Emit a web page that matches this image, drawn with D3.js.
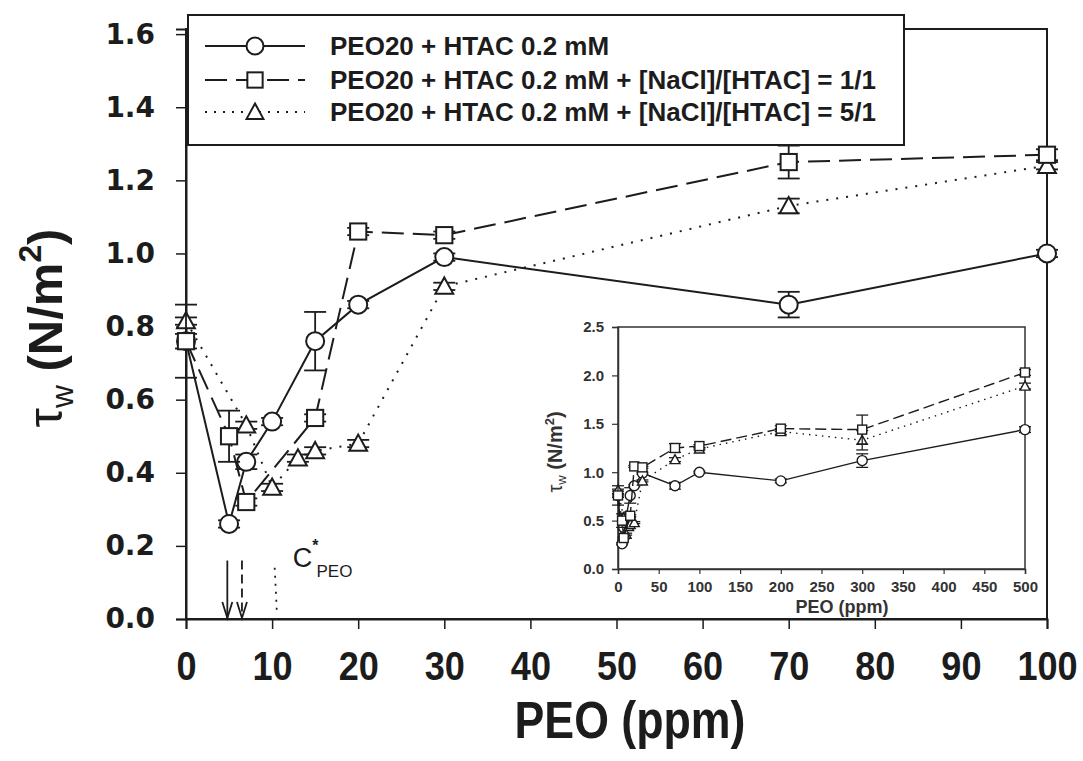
<!DOCTYPE html>
<html>
<head>
<meta charset="utf-8">
<script src="https://cdn.jsdelivr.net/npm/d3@7"></script>
<style>
  body { margin: 0; background: #fff; }
  svg { display: block; }
</style>
</head>
<body>
<svg width="1083" height="761"></svg>
<script>
// data: wall shear stress vs PEO concentration
var xHtac = [0, 5, 7, 10, 15, 20, 30, 70, 100, 200, 300, 500];
var tauHtac = [0.76, 0.26, 0.43, 0.54, 0.76, 0.86, 0.99, 0.86, 1.00, 0.91, 1.12, 1.44];
var errHtac = [0.02, 0.01, 0.02, 0.01, 0.08, 0.01, 0.01, 0.035, 0.01, 0.02, 0.07, 0.03];

var xNacl1 = [0, 5, 7, 15, 20, 30, 70, 100, 200, 300, 500];
var tauNacl1 = [0.76, 0.50, 0.32, 0.55, 1.06, 1.05, 1.25, 1.27, 1.45, 1.44, 2.03];
var errNacl1 = [0.10, 0.07, 0.01, 0.01, 0.01, 0.01, 0.045, 0.015, 0.03, 0.15, 0.03];

var xNacl5 = [0, 7, 10, 13, 15, 20, 30, 70, 100, 200, 300, 500];
var tauNacl5 = [0.815, 0.53, 0.36, 0.44, 0.46, 0.48, 0.91, 1.13, 1.24, 1.42, 1.33, 1.89];
var errNacl5 = [0.01, 0.01, 0.01, 0.01, 0.01, 0.01, 0.01, 0.02, 0.01, 0.03, 0.10, 0.03];

var legendLabels = [
  "PEO20 + HTAC 0.2 mM",
  "PEO20 + HTAC 0.2 mM + [NaCl]/[HTAC] = 1/1",
  "PEO20 + HTAC 0.2 mM + [NaCl]/[HTAC] = 5/1"
];
var xTicks = [0, 10, 20, 30, 40, 50, 60, 70, 80, 90, 100];
var yTicks = [0, 0.2, 0.4, 0.6, 0.8, 1.0, 1.2, 1.4, 1.6];
var insetXTicks = [0, 50, 100, 150, 200, 250, 300, 350, 400, 450, 500];
var insetYTicks = [0, 0.5, 1.0, 1.5, 2.0, 2.5];
// arrows marking the onset concentrations, and the C* overlap concentration
var arrowPeo = [4.8, 6.5];
var cStarPeo = 10.3;

var ink = "#1c1c1c";
var svg = d3.select("svg");

function zip(xs, ys, es) {
  return xs.map(function(x, i) { return { x: x, y: ys[i], e: es[i] }; });
}
var series = [
  { key: "htac", data: zip(xHtac, tauHtac, errHtac), dash: null, shape: "circle" },
  { key: "nacl5", data: zip(xNacl5, tauNacl5, errNacl5), dash: "2,7", shape: "triangle" },
  { key: "nacl1", data: zip(xNacl1, tauNacl1, errNacl1), dash: "22,9", shape: "square" }
];

function marker(sel, shape, s) {
  if (shape === "circle") {
    sel.append("circle").attr("r", s / 2);
  } else if (shape === "square") {
    sel.append("rect").attr("x", -s * 0.45).attr("y", -s * 0.45)
      .attr("width", s * 0.9).attr("height", s * 0.9);
  } else {
    var h = s * 0.9;
    sel.append("path").attr("d", "M0," + (-h * 0.55) + "L" + (h * 0.55) + "," + (h * 0.45) +
      "L" + (-h * 0.55) + "," + (h * 0.45) + "Z");
  }
}

function drawSeries(g, x, y, xmax, opt) {
  series.forEach(function(s) {
    var pts = s.data.filter(function(d) { return d.x <= xmax; });
    g.append("path")
      .datum(pts)
      .attr("fill", "none")
      .attr("stroke", ink)
      .attr("stroke-width", opt.lw)
      .attr("stroke-dasharray", s.dash ? opt.dash[s.key] : null)
      .attr("d", d3.line().x(function(d) { return x(d.x); }).y(function(d) { return y(d.y); }));

    // error bars
    pts.forEach(function(d) {
      var eb = g.append("g").attr("stroke", ink).attr("stroke-width", opt.lw * 0.9);
      var cx = x(d.x), y1 = y(d.y + d.e), y2 = y(d.y - d.e);
      eb.append("line").attr("x1", cx).attr("x2", cx).attr("y1", y1).attr("y2", y2);
      eb.append("line").attr("x1", cx - opt.cap).attr("x2", cx + opt.cap).attr("y1", y1).attr("y2", y1);
      eb.append("line").attr("x1", cx - opt.cap).attr("x2", cx + opt.cap).attr("y1", y2).attr("y2", y2);
    });

    pts.forEach(function(d) {
      var m = g.append("g")
        .attr("transform", "translate(" + x(d.x) + "," + y(d.y) + ")")
        .attr("fill", "#fff").attr("stroke", ink).attr("stroke-width", opt.lw);
      marker(m, s.shape, opt.size);
    });
  });
}

// ---------- main plot ----------
var x = d3.scaleLinear().domain([0, 100]).range([186, 1047]);
var y = d3.scaleLinear().domain([0, 1.614]).range([619, 29]);

svg.append("rect")
  .attr("x", x(0)).attr("y", y(1.614))
  .attr("width", x(100) - x(0)).attr("height", y(0) - y(1.614))
  .attr("fill", "none").attr("stroke", ink).attr("stroke-width", 2);

var xAxis = svg.append("g")
  .attr("transform", "translate(0," + y(0) + ")")
  .call(d3.axisBottom(x).tickValues(xTicks).tickSize(10).tickPadding(22));
xAxis.select(".domain").attr("stroke", ink).attr("stroke-width", 2);
xAxis.selectAll(".tick line").attr("stroke", ink).attr("stroke-width", 1.5);
xAxis.selectAll(".tick text")
  .attr("fill", ink)
  .attr("font-family", "Liberation Sans, Arial, sans-serif")
  .attr("font-weight", "bold")
  .attr("font-size", 41)
  .attr("transform", "scale(0.88,1)");

var yAxis = svg.append("g")
  .attr("transform", "translate(" + x(0) + ",0)")
  .call(d3.axisLeft(y).tickValues(yTicks).tickFormat(d3.format(".1f")).tickSize(10).tickPadding(21));
yAxis.select(".domain").attr("stroke", ink).attr("stroke-width", 2);
yAxis.selectAll(".tick line").attr("stroke", ink).attr("stroke-width", 1.5);
yAxis.selectAll(".tick text")
  .attr("fill", ink)
  .attr("font-family", "DejaVu Sans, sans-serif")
  .attr("font-weight", "bold")
  .attr("font-size", 28);

// axis titles
svg.append("text")
  .attr("x", 630).attr("y", 738)
  .attr("text-anchor", "middle")
  .attr("fill", ink)
  .attr("font-family", "Liberation Sans, Arial, sans-serif")
  .attr("font-weight", "bold")
  .attr("font-size", 52)
  .attr("transform", "translate(630,0) scale(0.86,1) translate(-630,0)")
  .text("PEO (ppm)");

function tauLabel(g, size, bold) {
  var t = g.append("text")
    .attr("text-anchor", "middle")
    .attr("fill", ink)
    .attr("font-family", "Liberation Sans, Arial, sans-serif")
    .attr("font-size", size);
  t.append("tspan").attr("font-weight", "normal").text("\u03c4");
  t.append("tspan").attr("font-weight", "normal").attr("font-size", size * 0.65)
    .attr("dy", size * 0.22).text("w");
  t.append("tspan").attr("font-weight", bold).attr("dy", -size * 0.22).text(" (N/m");
  t.append("tspan").attr("font-weight", bold).attr("font-size", size * 0.65)
    .attr("dy", -size * 0.42).text("2");
  t.append("tspan").attr("font-weight", bold).attr("dy", size * 0.42).text(")");
  return t;
}
tauLabel(svg.append("g").attr("transform", "translate(62,328) rotate(-90)"), 49, "bold");

// lines, error bars and markers
drawSeries(svg.append("g"), x, y, 100, {
  lw: 2, size: 18, cap: 11, dash: { nacl1: "22,9", nacl5: "2,8" }
});

// onset arrows
var arrows = svg.append("g").attr("stroke", ink).attr("stroke-width", 1.8).attr("fill", "none");
arrowPeo.forEach(function(p, i) {
  var ax = x(p);
  arrows.append("line")
    .attr("x1", ax).attr("x2", ax).attr("y1", y(0.16)).attr("y2", y(0.003))
    .attr("stroke-dasharray", i === 1 ? "9,5" : null);
  arrows.append("path")
    .attr("d", "M" + (ax - 5) + "," + (y(0) - 17) + "L" + ax + "," + (y(0) - 1) + "L" + (ax + 5) + "," + (y(0) - 17));
});
arrows.append("line")
  .attr("x1", x(cStarPeo)).attr("x2", x(cStarPeo + 0.25))
  .attr("y1", y(0.14)).attr("y2", y(0.02))
  .attr("stroke-dasharray", "2,6");

var cs = svg.append("text")
  .attr("x", x(12.4)).attr("y", y(0.143))
  .attr("fill", ink)
  .attr("font-family", "Liberation Sans, Arial, sans-serif")
  .attr("font-size", 27);
cs.append("tspan").text("C");
cs.append("tspan").attr("font-size", 16).attr("dy", -16).attr("font-weight", "bold").text("*");
cs.append("tspan").attr("font-size", 17).attr("dy", 26).attr("dx", -2).text("PEO");

// ---------- legend ----------
var leg = svg.append("g");
leg.append("rect")
  .attr("x", 188).attr("y", 15).attr("width", 716).attr("height", 130)
  .attr("fill", "#fff").attr("stroke", ink).attr("stroke-width", 2);
var legRows = [46, 80, 112];
var legSeries = [series[0], series[2], series[1]];
legSeries.forEach(function(s, i) {
  var row = leg.append("g").attr("transform", "translate(0," + legRows[i] + ")");
  row.append("line")
    .attr("x1", 205).attr("x2", 305)
    .attr("stroke", ink).attr("stroke-width", 2)
    .attr("stroke-dasharray", s.dash);
  var m = row.append("g").attr("transform", "translate(255,0)")
    .attr("fill", "#fff").attr("stroke", ink).attr("stroke-width", 2);
  marker(m, s.shape, 17);
  row.append("text")
    .attr("x", 330).attr("dy", "0.36em")
    .attr("fill", ink)
    .attr("font-family", "Liberation Sans, Arial, sans-serif")
    .attr("font-weight", "bold")
    .attr("font-size", 26)
    .text(legendLabels[i]);
});

// ---------- inset ----------
var ix = d3.scaleLinear().domain([0, 500]).range([618, 1025]);
var iy = d3.scaleLinear().domain([0, 2.5]).range([569, 327]);
var inset = svg.append("g");
inset.append("rect")
  .attr("x", ix(0)).attr("y", iy(2.5))
  .attr("width", ix(500) - ix(0)).attr("height", iy(0) - iy(2.5))
  .attr("fill", "#fff").attr("stroke", "#333").attr("stroke-width", 1.5);

var ixAxis = inset.append("g")
  .attr("transform", "translate(0," + iy(0) + ")")
  .call(d3.axisBottom(ix).tickValues(insetXTicks).tickSize(5).tickPadding(7));
var iyAxis = inset.append("g")
  .attr("transform", "translate(" + ix(0) + ",0)")
  .call(d3.axisLeft(iy).tickValues(insetYTicks).tickFormat(d3.format(".1f")).tickSize(6).tickPadding(8));
[ixAxis, iyAxis].forEach(function(a) {
  a.select(".domain").attr("stroke", "#333").attr("stroke-width", 1.5);
  a.selectAll(".tick line").attr("stroke", "#333").attr("stroke-width", 1.2);
  a.selectAll(".tick text")
    .attr("fill", "#333")
    .attr("font-family", "Liberation Sans, Arial, sans-serif")
    .attr("font-weight", "bold")
    .attr("font-size", 15);
});

inset.append("text")
  .attr("x", 842).attr("y", 613)
  .attr("text-anchor", "middle")
  .attr("fill", "#333")
  .attr("font-family", "Liberation Sans, Arial, sans-serif")
  .attr("font-weight", "bold")
  .attr("font-size", 18)
  .text("PEO (ppm)");
tauLabel(inset.append("g").attr("transform", "translate(562,452) rotate(-90)"), 20, "bold")
  .attr("fill", "#333");

drawSeries(inset.append("g"), ix, iy, 500, {
  lw: 1.4, size: 10, cap: 6, dash: { nacl1: "11,5", nacl5: "1.5,5" }
});
</script>
</body>
</html>
